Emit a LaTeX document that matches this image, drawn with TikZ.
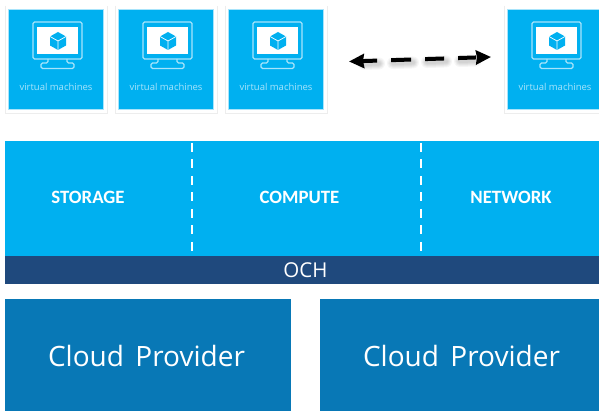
\documentclass[tikz,border=0pt]{standalone}
\usepackage{fontspec}
\setmainfont{Carlito}
\newfontfamily\opensans{Open Sans}
\usetikzlibrary{arrows.meta}
\definecolor{sky}{HTML}{00B0F0}
\definecolor{navy}{HTML}{1F497D}
\definecolor{cloudblue}{HTML}{0878B6}
\definecolor{paleline}{HTML}{A8E4FB}
\tikzset{
  x=1pt,y=-1pt,
  cardedge/.style={draw=black!7,line width=.8pt},
  tile/.style={fill=sky,draw=paleline,line width=.5pt},
  vmline/.style={draw=paleline,line width=1.2pt,rounded corners=1.5pt},
  vmtext/.style={text=paleline,font=\fontsize{9.5}{10}\selectfont\opensans,inner sep=0pt},
  band/.style={fill=sky,draw=none,inner sep=0pt},
  bandlabel/.style={text=white,font=\fontsize{18.8}{20}\selectfont\bfseries,inner sep=0pt},
  sep/.style={draw=white,line width=2.4pt,dash pattern=on 9pt off 7.5pt},
  cloudbox/.style={fill=cloudblue,draw=none},
  cloudlabel/.style={text=white,font=\fontsize{28}{30}\selectfont\opensans,inner sep=0pt},
  link/.style={line width=4pt,draw=black,dash pattern=on 15pt off 14pt on 20pt off 14pt on 19pt off 14pt on 18pt off 40pt,
     {Stealth[length=15pt,width=14pt,fill=black,inset=1pt]}-{Stealth[length=15pt,width=14pt,fill=black,inset=1pt]}},
  linkshadow/.style={draw=black,opacity=.035,line cap=round,dash pattern=on 15pt off 14pt on 20pt off 14pt on 19pt off 14pt on 18pt off 40pt},
}
\newcommand{\vmtile}[2]{%
  \begin{scope}[shift={(#1,0)}]
    \draw[cardedge] (-3,6) -- (-3,113) -- (99,113) -- (99,6);
    \filldraw[tile] (0,9) rectangle (95,109);
    \draw[vmline] (25,22) rectangle (74,59);
    \fill[white] (29,27) rectangle (70,54);
    \fill[sky] (50,32) -- (58,36.5) -- (58,45.5) -- (50,50) -- (42,45.5) -- (42,36.5) -- cycle;
    \draw[white,line width=.7pt] (50,41) -- (50,50) (50,41) -- (42,36.5) (50,41) -- (58,36.5);
    \draw[vmline] (40,59) -- (40,63) -- (33,63) -- (33,68.5) -- (66,68.5) -- (66,63) -- (59,63) -- (59,59);
    \node[vmtext] (#2) at (48,87) {virtual machines};
  \end{scope}}
\begin{document}
\begin{tikzpicture}
\useasboundingbox (0,0) rectangle (599,411);
\fill[white] (0,0) rectangle (599,411);
\vmtile{8}{vma}
\vmtile{118}{vmb}
\vmtile{228}{vmc}
\vmtile{507}{vmd}
% arrow
\coordinate (la) at (349,61.5);
\coordinate (lb) at (491,57);
\coordinate (sa) at (364,64);
\coordinate (sb) at (476,60.5);
\foreach \w in {4,6,8,10,12}{\draw[linkshadow,line width=\w pt] (sa) -- (sb);}
\draw[link] (la) -- (lb);
% band
\fill[band] (5,141) rectangle (599,256);
\node[bandlabel] (storage) at (88,197) {STORAGE};
\node[bandlabel] (compute) at (299.5,197) {COMPUTE};
\node[bandlabel] (network) at (511,197) {NETWORK};
\coordinate (s1a) at (192,143);
\coordinate (s1b) at (192,255);
\coordinate (s2a) at (421,143);
\coordinate (s2b) at (421,255);
\draw[sep] (s1a) -- (s1b);
\draw[sep] (s2a) -- (s2b);
% OCH
\fill[navy] (5,256) rectangle (599,284.5);
\node[text=white,font=\fontsize{20.5}{22}\selectfont\opensans,inner sep=0pt] (och) at (305.5,270.5) {OCH};
% Cloud providers
\fill[cloudbox] (5,299) rectangle (290.5,411);
\fill[cloudbox] (319.5,299) rectangle (599,411);
\node[cloudlabel] (cpa) at (146.5,356) {Cloud\hspace{.15em} Provider};
\node[cloudlabel] (cpb) at (461.5,356) {Cloud\hspace{.15em} Provider};
\end{tikzpicture}
\end{document}
